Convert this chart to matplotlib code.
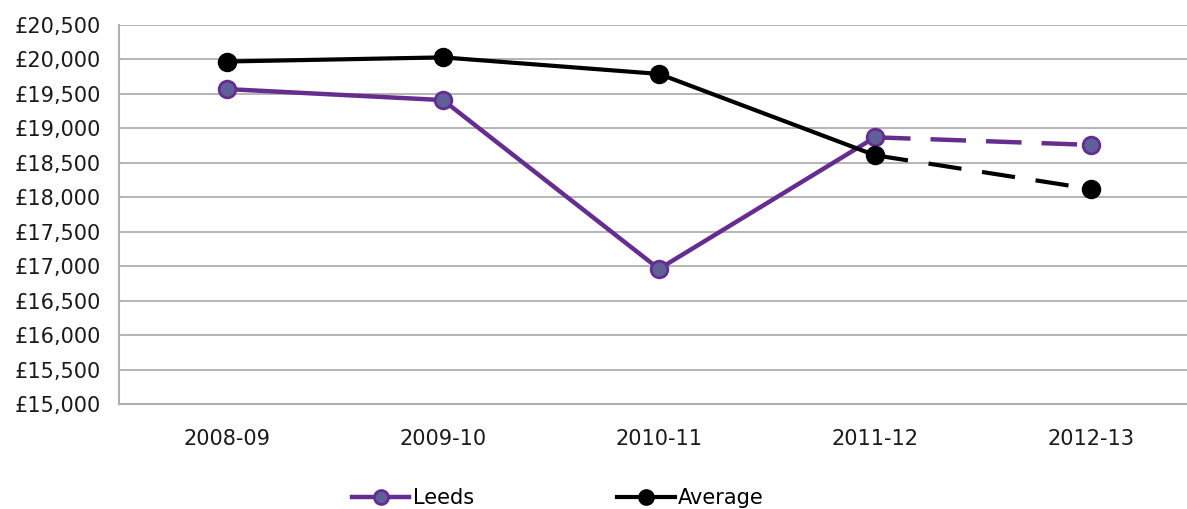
import matplotlib.pyplot as plt
from matplotlib.lines import Line2D
import numpy as np

years = ["2008-09", "2009-10", "2010-11", "2011-12", "2012-13"]
leeds = [19570, 19410, 16960, 18870, 18760]
average = [19970, 20030, 19790, 18610, 18120]

purple = "#662d91"
purple_fill = "#5f5f9a"

fig = plt.figure(figsize=(11.87, 5.09), dpi=100)
ax = fig.add_axes([0.1003, 0.2063, 0.9098, 0.7446])

x = np.arange(len(years))

# solid up to 2011-12, dashed for the projected year
ax.plot(x[:4], leeds[:4], color=purple, lw=3.2, zorder=3)
ax.plot(x[3:], leeds[3:], color=purple, lw=3.2, ls=(0, (8, 4.5)), zorder=3)
ax.plot(x, leeds, ls="none", marker="o", ms=12, mfc=purple_fill, mec=purple, mew=2, zorder=4)

ax.plot(x[:4], average[:4], color="black", lw=3, zorder=5)
ax.plot(x[3:], average[3:], color="black", lw=3, ls=(0, (8, 5)), zorder=5)
ax.plot(x, average, ls="none", marker="o", ms=13, mfc="black", mec="black", zorder=6)

ax.set_xlim(-0.5, 4.5)
ax.set_ylim(15000, 20500)
ax.set_yticks(np.arange(15000, 20501, 500))
ax.set_yticklabels([f"£{v:,}" for v in range(15000, 20501, 500)])
ax.set_xticks(x)
ax.set_xticklabels(years)
ax.tick_params(length=0, labelsize=15, colors="#1a1a1a")
ax.tick_params(axis="y", pad=13)
ax.tick_params(axis="x", pad=18)
ax.grid(axis="y", color="#a0a0a0", lw=1.1)
ax.set_axisbelow(True)
for s in ["top", "right"]:
    ax.spines[s].set_visible(False)
for s in ["left", "bottom"]:
    ax.spines[s].set_color("#b0b0b0")
    ax.spines[s].set_linewidth(1.5)

handles = [
    Line2D([], [], color=purple, lw=3.2, marker="o", ms=10, mfc=purple_fill, mec=purple, mew=2),
    Line2D([], [], color="black", lw=3, marker="o", ms=11, mfc="black", mec="black"),
]
fig.legend(handles, ["Leeds", "Average"], loc="center", bbox_to_anchor=(0.47, 0.022),
           ncol=2, frameon=False, fontsize=15, handlelength=2.75, handletextpad=0.15,
           columnspacing=6.9, borderpad=0)

fig.savefig("out.png", dpi=100)
